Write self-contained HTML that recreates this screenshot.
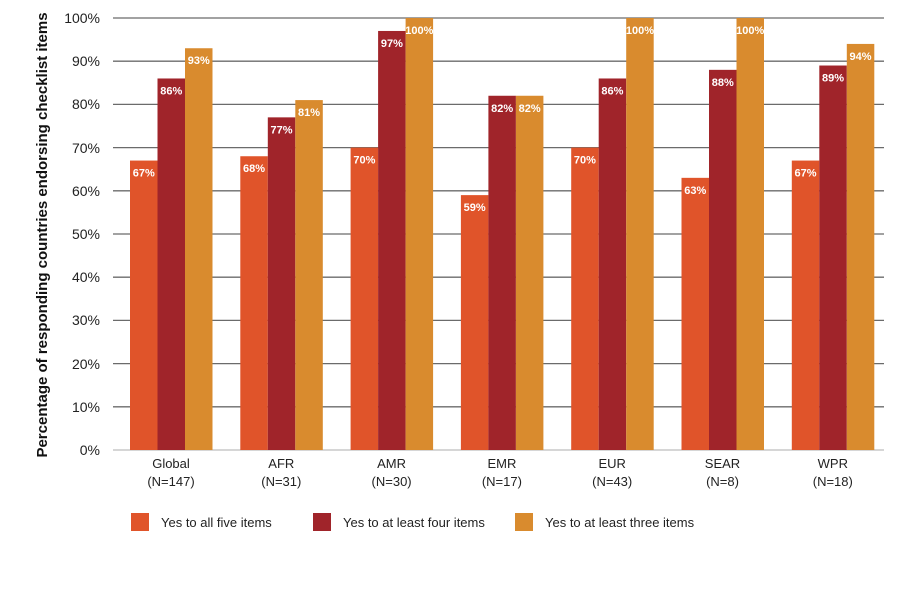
<!DOCTYPE html><html><head><style>body{margin:0;background:#fff}</style></head><body>
<svg width="900" height="604" xmlns="http://www.w3.org/2000/svg" font-family="Liberation Sans, Arial, sans-serif">
<rect width="900" height="604" fill="#fff"/>
<g stroke="#6b6b6b" stroke-width="1.3">
<line x1="113" x2="884" y1="18" y2="18"/><line x1="113" x2="884" y1="61.2" y2="61.2"/><line x1="113" x2="884" y1="104.4" y2="104.4"/><line x1="113" x2="884" y1="147.6" y2="147.6"/><line x1="113" x2="884" y1="190.8" y2="190.8"/><line x1="113" x2="884" y1="234" y2="234"/><line x1="113" x2="884" y1="277.2" y2="277.2"/><line x1="113" x2="884" y1="320.4" y2="320.4"/><line x1="113" x2="884" y1="363.6" y2="363.6"/><line x1="113" x2="884" y1="406.8" y2="406.8"/></g>
<line x1="113" x2="884" y1="450" y2="450" stroke="#c8c8c8" stroke-width="1.5"/>
<g font-size="14" fill="#222" text-anchor="end">
<text x="100" y="23">100%</text><text x="100" y="66">90%</text><text x="100" y="109">80%</text><text x="100" y="153">70%</text><text x="100" y="196">60%</text><text x="100" y="239">50%</text><text x="100" y="282">40%</text><text x="100" y="325">30%</text><text x="100" y="369">20%</text><text x="100" y="412">10%</text><text x="100" y="455">0%</text></g>
<text transform="translate(47,235) rotate(-90)" text-anchor="middle" font-size="15" font-weight="bold" fill="#111">Percentage of responding countries endorsing checklist items</text>
<g id="bars"></g>
<g font-size="13" fill="#222" text-anchor="middle" id="cats"></g>
<rect x="131" y="513" width="18" height="18" fill="#e0542a"/><text x="161" y="527" font-size="13" fill="#222">Yes to all five items</text>
<rect x="313" y="513" width="18" height="18" fill="#a0242a"/><text x="343" y="527" font-size="13" fill="#222">Yes to at least four items</text>
<rect x="515" y="513" width="18" height="18" fill="#d98b2e"/><text x="545" y="527" font-size="13" fill="#222">Yes to at least three items</text>
</svg>
<script>
var d=[["Global","(N=147)",67,86,93],["AFR","(N=31)",68,77,81],["AMR","(N=30)",70,97,100],["EMR","(N=17)",59,82,82],["EUR","(N=43)",70,86,100],["SEAR","(N=8)",63,88,100],["WPR","(N=18)",67,89,94]];
var c=["#e0542a","#a0242a","#d98b2e"],s="",t="";
d.forEach(function(g,i){var x0=130+i*110.3;for(var k=0;k<3;k++){var v=g[2+k],x=x0+k*27.5,y=450-v*4.32;
s+='<rect x="'+x+'" y="'+y+'" width="27.5" height="'+(450-y)+'" fill="'+c[k]+'"/>';
s+='<text x="'+(x+13.75)+'" y="'+(y+16)+'" font-size="11" font-weight="bold" fill="#fff" text-anchor="middle">'+v+'%</text>';}
t+='<text x="'+(x0+41)+'" y="468">'+g[0]+'</text><text x="'+(x0+41)+'" y="486">'+g[1]+'</text>';});
document.getElementById("bars").innerHTML=s;document.getElementById("cats").innerHTML=t;
</script>
</body></html>
